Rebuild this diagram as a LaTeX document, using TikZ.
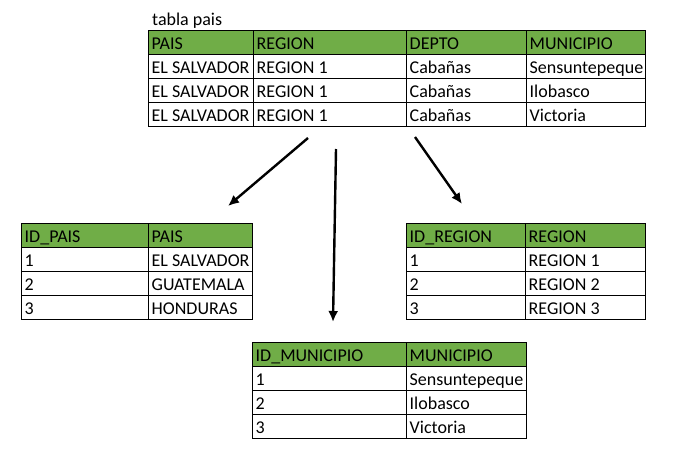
\documentclass[tikz,border=0pt]{standalone}
\usepackage{fontspec}
\setmainfont{Carlito}
\usetikzlibrary{arrows.meta}
\definecolor{hdrgreen}{HTML}{70AD47}
\tikzset{
  cellbox/.style={draw=black, line width=1pt, minimum height=24pt, inner sep=0pt, outer sep=0pt, anchor=north west},
  celltext/.style={font=\fontsize{18pt}{20pt}\selectfont, inner sep=0pt, anchor=base west, text=black},
  bigarrow/.style={-{Latex[length=11pt,width=10pt]}, line width=2.4pt, black}
}
\newcommand\tcell[6]{%
  \node[cellbox, fill=#5, minimum width=#4pt] (#1) at (#2,#3) {};
  \node[celltext] (#1t) at (#2+3.5,#3+19) {#6};}
\begin{document}
\begin{tikzpicture}[x=1pt,y=-1pt]
\useasboundingbox[fill=white] (0,0) rectangle (688,469);
% title
\node[celltext] (title) at (152,25) {tabla pais};
% top table
\tcell{th1}{148}{30}{105}{hdrgreen}{PAIS}
\tcell{th2}{253}{30}{153}{hdrgreen}{REGION}
\tcell{th3}{406}{30}{120}{hdrgreen}{DEPTO}
\tcell{th4}{526}{30}{119}{hdrgreen}{MUNICIPIO}
\tcell{ta1}{148}{54}{105}{white}{EL SALVADOR}
\tcell{ta2}{253}{54}{153}{white}{REGION 1}
\tcell{ta3}{406}{54}{120}{white}{Cabañas}
\tcell{ta4}{526}{54}{119}{white}{Sensuntepeque}
\tcell{tb1}{148}{78}{105}{white}{EL SALVADOR}
\tcell{tb2}{253}{78}{153}{white}{REGION 1}
\tcell{tb3}{406}{78}{120}{white}{Cabañas}
\tcell{tb4}{526}{78}{119}{white}{Ilobasco}
\tcell{tc1}{148}{102}{105}{white}{EL SALVADOR}
\tcell{tc2}{253}{102}{153}{white}{REGION 1}
\tcell{tc3}{406}{102}{120}{white}{Cabañas}
\tcell{tc4}{526}{102}{119}{white}{Victoria}
% pais table
\tcell{ph1}{21}{223}{127}{hdrgreen}{ID\_PAIS}
\tcell{ph2}{148}{223}{104}{hdrgreen}{PAIS}
\tcell{pa1}{21}{247}{127}{white}{1}
\tcell{pa2}{148}{247}{104}{white}{EL SALVADOR}
\tcell{pb1}{21}{271}{127}{white}{2}
\tcell{pb2}{148}{271}{104}{white}{GUATEMALA}
\tcell{pc1}{21}{295}{127}{white}{3}
\tcell{pc2}{148}{295}{104}{white}{HONDURAS}
% region table
\tcell{rh1}{406}{223}{119}{hdrgreen}{ID\_REGION}
\tcell{rh2}{525}{223}{120}{hdrgreen}{REGION}
\tcell{ra1}{406}{247}{119}{white}{1}
\tcell{ra2}{525}{247}{120}{white}{REGION 1}
\tcell{rb1}{406}{271}{119}{white}{2}
\tcell{rb2}{525}{271}{120}{white}{REGION 2}
\tcell{rc1}{406}{295}{119}{white}{3}
\tcell{rc2}{525}{295}{120}{white}{REGION 3}
% municipio table
\tcell{mh1}{252}{342}{154}{hdrgreen}{ID\_MUNICIPIO}
\tcell{mh2}{406}{342}{120}{hdrgreen}{MUNICIPIO}
\tcell{ma1}{252}{366}{154}{white}{1}
\tcell{ma2}{406}{366}{120}{white}{Sensuntepeque}
\tcell{mb1}{252}{390}{154}{white}{2}
\tcell{mb2}{406}{390}{120}{white}{Ilobasco}
\tcell{mc1}{252}{414}{154}{white}{3}
\tcell{mc2}{406}{414}{120}{white}{Victoria}
% arrows
\coordinate (a1s) at (308,138);
\coordinate (a1e) at (228,206);
\coordinate (a2s) at (336,149);
\coordinate (a2e) at (333,322);
\coordinate (a3s) at (415,137);
\coordinate (a3e) at (462,204);
\draw[bigarrow] (a1s) -- (a1e);
\draw[bigarrow] (a2s) -- (a2e);
\draw[bigarrow] (a3s) -- (a3e);
\end{tikzpicture}
\end{document}
